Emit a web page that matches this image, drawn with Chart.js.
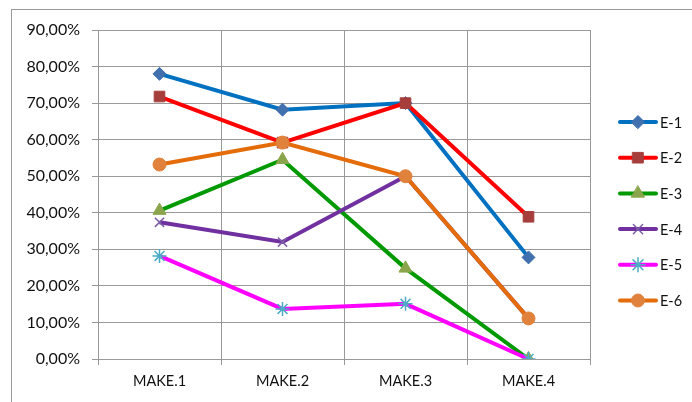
<!DOCTYPE html>
<html>
<head>
<meta charset="utf-8">
<script src="https://cdn.jsdelivr.net/npm/chart.js@4"></script>
<style>
  html, body { margin: 0; padding: 0; background: #fff; }
  #wrap { position: relative; width: 692px; height: 402px; overflow: hidden; }
  #frame { position: absolute; left: 11px; top: 9px; width: 700px; height: 420px;
           border-top: 1px solid #9a9a9a; border-left: 1px solid #9a9a9a; }
  #myChart { position: absolute; left: 0; top: 0; }
</style>
</head>
<body>
<div id="wrap">
  <div id="frame"></div>
  <canvas id="myChart" width="692" height="402"></canvas>
</div>
<script>
// categories and values (percent)
const makes = ['MAKE.1', 'MAKE.2', 'MAKE.3', 'MAKE.4'];
const e1 = [78.0, 68.2, 70.0, 27.8];
const e2 = [71.8, 59.2, 70.0, 38.9];
const e3 = [40.6, 54.5, 24.8, 0];
const e4 = [37.4, 32.0, 50.0, 11.1];
const e5 = [28.2, 13.7, 15.1, 0];
const e6 = [53.2, 59.2, 50.0, 11.1];
const yTicks = [0, 10, 20, 30, 40, 50, 60, 70, 80, 90];

function serie(label, data, line, mark, style, radius) {
    return {
        label: label,
        data: data,
        borderColor: line,
        backgroundColor: mark,
        pointBackgroundColor: mark,
        pointBorderColor: mark,
        pointStyle: style,
        pointRadius: radius,
        pointBorderWidth: 1,
        borderWidth: 4,
        tension: 0
    };
}

const datasets = [
    serie('E-1', e1, '#0070C0', '#4170AF', 'rectRot', 6.5),
    serie('E-2', e2, '#FF0000', '#A63F3B', 'rect', 7.5),
    serie('E-3', e3, '#009A00', '#8BA54C', 'triangle', 7.5),
    serie('E-4', e4, '#7030A0', '#7C5EA8', 'crossRot', 6.5),
    serie('E-5', e5, '#FF00FF', '#4BACC6', 'star', 7),
    serie('E-6', e6, '#E46C0A', '#E0823C', 'circle', 6.5)
];
// draw order: later datasets on top
datasets.forEach(function (d, i) { d.order = 6 - i; });
datasets[3].pointBorderWidth = 1.5;
datasets[4].pointBorderWidth = 1.5;

// legend with a line segment and the marker, like the series
const sideLegend = {
    id: 'sideLegend',
    afterDraw: function (chart) {
        const ctx = chart.ctx;
        const h = Chart.helpers;
        ctx.save();
        chart.data.datasets.forEach(function (d, i) {
            const y = 122 + i * 35.7;
            ctx.strokeStyle = d.borderColor;
            ctx.lineWidth = 4;
            ctx.lineCap = 'round';
            ctx.beginPath();
            ctx.moveTo(620, y);
            ctx.lineTo(656, y);
            ctx.stroke();
            ctx.fillStyle = d.pointBackgroundColor;
            ctx.strokeStyle = d.pointBorderColor;
            ctx.lineWidth = d.pointBorderWidth;
            h.drawPoint(ctx, { pointStyle: d.pointStyle, radius: d.pointRadius, rotation: 0, borderWidth: d.pointBorderWidth }, 638, y);
            ctx.fillStyle = '#111';
            ctx.font = '14.5px Lato';
            ctx.textAlign = 'left';
            ctx.textBaseline = 'middle';
            ctx.fillText(d.label, 660, y + 1);
        });
        ctx.restore();
    }
};

const ctx = document.getElementById('myChart').getContext('2d');
const myChart = new Chart(ctx, {
    type: 'line',
    data: { labels: makes, datasets: datasets },
    options: {
        responsive: false,
        animation: false,
        layout: { padding: { top: 30, right: 102, left: 0, bottom: 0 } },
        plugins: {
            legend: { display: false },
            tooltip: { enabled: false }
        },
        scales: {
            x: {
                offset: true,
                grid: { offset: true, color: '#999', lineWidth: 1, tickLength: 6 },
                border: { color: '#999' },
                ticks: { color: '#111', font: { family: 'Lato', size: 14.5 }, padding: 8 },
                afterFit: function (s) { s.height = 43; }
            },
            y: {
                min: 0,
                max: 90,
                afterBuildTicks: function (s) { s.ticks = yTicks.map(function (v) { return { value: v }; }); },
                grid: { color: '#999', lineWidth: 1, tickLength: 6 },
                border: { color: '#999' },
                ticks: {
                    color: '#111',
                    font: { family: 'Lato', size: 16 },
                    padding: 12,
                    callback: function (v) { return v.toFixed(2).replace('.', ',') + '%'; }
                },
                afterFit: function (s) { s.width = 98; }
            }
        }
    },
    plugins: [sideLegend]
});
</script>
</body>
</html>
